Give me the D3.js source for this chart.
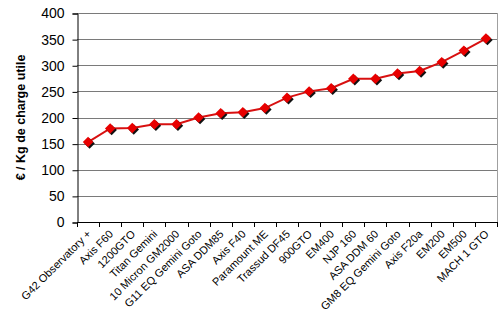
<!DOCTYPE html>
<html>
<head>
<meta charset="utf-8">
<script src="https://cdn.jsdelivr.net/npm/d3@7"></script>
<style>
  body { margin: 0; background: #fff; }
  svg { display: block; font-family: "Liberation Sans", Arial, sans-serif; }
</style>
</head>
<body>
<script>
const mounts = [
  'G42 Observatory +', 'Axis F60', '1200GTO', 'Titan Gemini', '10 Micron GM2000',
  'G11 EQ Gemini Goto', 'ASA DDM85', 'Axis F40', 'Paramount ME', 'Trassud DF45',
  '900GTO', 'EM400', 'NJP 160', 'ASA DDM 60', 'GM8 EQ Gemini Goto', 'Axis F20a',
  'EM200', 'EM500', 'MACH 1 GTO',
];
const pricePerKg = [
  153, 179, 180, 187, 187, 200, 208, 210, 218, 238,
  250, 256, 274, 274, 284, 289, 306, 328, 351,
];
const yTicks = [0, 50, 100, 150, 200, 250, 300, 350, 400];
const yAxisLabel = '€ / Kg de charge utile';

const width = 500;
const height = 316;
const plot = { left: 77, right: 497, top: 13, bottom: 222 };

const data = mounts.map((name, i) => ({ name, value: pricePerKg[i] }));

const svg = d3.select('body')
  .append('svg')
  .attr('width', width)
  .attr('height', height);

const xScale = d3.scaleBand()
  .domain(mounts)
  .range([plot.left, plot.right])
  .padding(0);

const yScale = d3.scaleLinear()
  .domain([0, 400])
  .range([plot.bottom, plot.top]);

// grid lines
svg.append('g')
  .selectAll('line')
  .data(yTicks.slice(1))
  .join('line')
  .attr('x1', plot.left)
  .attr('x2', plot.right)
  .attr('y1', (d) => Math.round(yScale(d)) + 0.5)
  .attr('y2', (d) => Math.round(yScale(d)) + 0.5)
  .attr('stroke', '#7a7a7a')
  .attr('stroke-width', 1);

// right border of plot area
svg.append('line')
  .attr('x1', plot.right + 0.5)
  .attr('x2', plot.right + 0.5)
  .attr('y1', plot.top)
  .attr('y2', plot.bottom)
  .attr('stroke', '#a0a0a0');

// y axis
const yAxis = d3.axisLeft(yScale)
  .tickValues(yTicks)
  .tickSize(5)
  .tickPadding(8);

const yG = svg.append('g')
  .attr('transform', `translate(${plot.left + 0.5}, 0.5)`)
  .call(yAxis);
yG.select('.domain').attr('stroke', '#000');
yG.selectAll('.tick line').attr('stroke', '#000');
yG.selectAll('.tick text')
  .attr('font-size', '14px')
  .attr('fill', '#000')
  .attr('font-family', '"Liberation Sans", Arial, sans-serif');

// x axis, ticks on category boundaries
const boundaries = mounts.map((m) => xScale(m)).concat([plot.right]);
svg.append('line')
  .attr('x1', plot.left)
  .attr('x2', plot.right)
  .attr('y1', plot.bottom + 0.5)
  .attr('y2', plot.bottom + 0.5)
  .attr('stroke', '#000');

svg.append('g')
  .selectAll('line')
  .data(boundaries)
  .join('line')
  .attr('x1', (d) => Math.round(d) + 0.5)
  .attr('x2', (d) => Math.round(d) + 0.5)
  .attr('y1', plot.bottom)
  .attr('y2', plot.bottom + 5)
  .attr('stroke', '#000');

// category labels
svg.append('g')
  .selectAll('text')
  .data(mounts)
  .join('text')
  .attr('transform', (d) => `translate(${xScale(d) + xScale.bandwidth() / 2 + 1}, ${plot.bottom + 10}) rotate(-45)`)
  .attr('text-anchor', 'end')
  .attr('dy', '0.35em')
  .attr('font-size', '11px')
  .attr('fill', '#000')
  .text((d) => d);

// y axis title
svg.append('text')
  .attr('transform', `translate(25, ${(plot.top + plot.bottom) / 2}) rotate(-90)`)
  .attr('text-anchor', 'middle')
  .attr('font-size', '12.5px')
  .attr('font-weight', 'bold')
  .text(yAxisLabel);

// line
const line = d3.line()
  .x((d) => xScale(d.name) + xScale.bandwidth() / 2)
  .y((d) => yScale(d.value));

svg.append('path')
  .datum(data)
  .attr('d', line)
  .attr('fill', 'none')
  .attr('stroke', '#d81010')
  .attr('stroke-width', 2);

// diamond markers with shadow
const diamond = d3.symbol().type(d3.symbolDiamond2).size(70);

svg.append('g')
  .selectAll('path')
  .data(data)
  .join('path')
  .attr('d', diamond)
  .attr('transform', (d) => `translate(${xScale(d.name) + xScale.bandwidth() / 2 + 1.5}, ${yScale(d.value) + 1.5})`)
  .attr('fill', '#111');

svg.append('g')
  .selectAll('path')
  .data(data)
  .join('path')
  .attr('d', diamond)
  .attr('transform', (d) => `translate(${xScale(d.name) + xScale.bandwidth() / 2}, ${yScale(d.value)})`)
  .attr('fill', '#e80000');
</script>
</body>
</html>
